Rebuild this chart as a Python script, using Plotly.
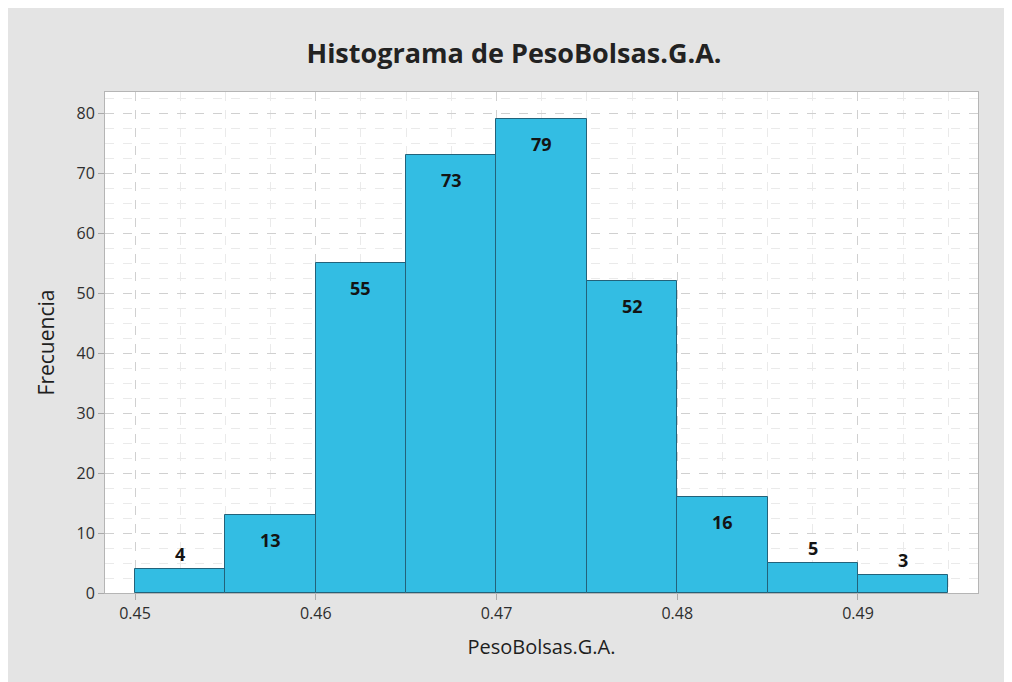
import plotly.graph_objects as go

bin_left = [0.450, 0.455, 0.460, 0.465, 0.470, 0.475, 0.480, 0.485, 0.490]
bin_width = 0.005
counts = [4, 13, 55, 73, 79, 52, 16, 5, 3]
label_inside = [False, True, True, True, True, True, True, False, False]
x_ticks = [0.45, 0.46, 0.47, 0.48, 0.49]
x_tick_labels = ["0.45", "0.46", "0.47", "0.48", "0.49"]
y_ticks = [0, 10, 20, 30, 40, 50, 60, 70, 80]

centers = [l + bin_width / 2 for l in bin_left]

font_family = "Open Sans"

fig = go.Figure()
fig.add_trace(go.Bar(
    x=centers, y=counts, width=[bin_width] * len(counts),
    marker=dict(color="#33bde3", line=dict(color="#23627a", width=1)),
    hoverinfo="x+y", showlegend=False,
))

for c, v, inside in zip(centers, counts, label_inside):
    fig.add_annotation(
        x=c, y=v, text=f"<b>{v}</b>", showarrow=False,
        yanchor="middle", yshift=-25 if inside else 15,
        font=dict(family=font_family, size=18, color="#141414"),
    )

fig.update_layout(
    width=1012, height=682,
    margin=dict(l=97, r=42, t=84, b=97),
    paper_bgcolor="#e4e4e4", plot_bgcolor="#ffffff",
    title=dict(text="<b>Histograma de PesoBolsas.G.A.</b>", x=0.5, xanchor="center",
               xref="container", y=0.9326, yanchor="middle",
               font=dict(family=font_family, size=27, color="#222222")),
    font=dict(family=font_family, color="#333333"),
    bargap=0,
)
fig.update_xaxes(
    range=[0.44834, 0.49664], tickvals=x_ticks, ticktext=x_tick_labels,
    tickfont=dict(size=16, color="#2e2e2e"),
    ticks="outside", ticklen=6, tickcolor="#aaaaaa",
    showline=True, linecolor="#b5b5b5", linewidth=1, mirror=True,
    showgrid=True, gridcolor="#d0d0d0", griddash="dash", gridwidth=1,
    minor=dict(dtick=0.0025, tick0=0.45, showgrid=True, gridcolor="#eaeaea", griddash="dash"),
    title=dict(text="PesoBolsas.G.A.", font=dict(size=20, color="#1e1e1e"), standoff=16),
    zeroline=False,
)
fig.update_yaxes(
    range=[0, 83.5], tickvals=y_ticks,
    tickfont=dict(size=16, color="#2e2e2e"),
    ticks="outside", ticklen=6, tickcolor="#aaaaaa",
    showline=True, linecolor="#b5b5b5", linewidth=1, mirror=True,
    showgrid=True, gridcolor="#d0d0d0", griddash="dash", gridwidth=1,
    minor=dict(dtick=2.5, showgrid=True, gridcolor="#eaeaea", griddash="dash"),
    title=dict(text="Frecuencia", font=dict(size=21, color="#1e1e1e"), standoff=16),
    zeroline=False,
)

fig.write_html("out.html")
